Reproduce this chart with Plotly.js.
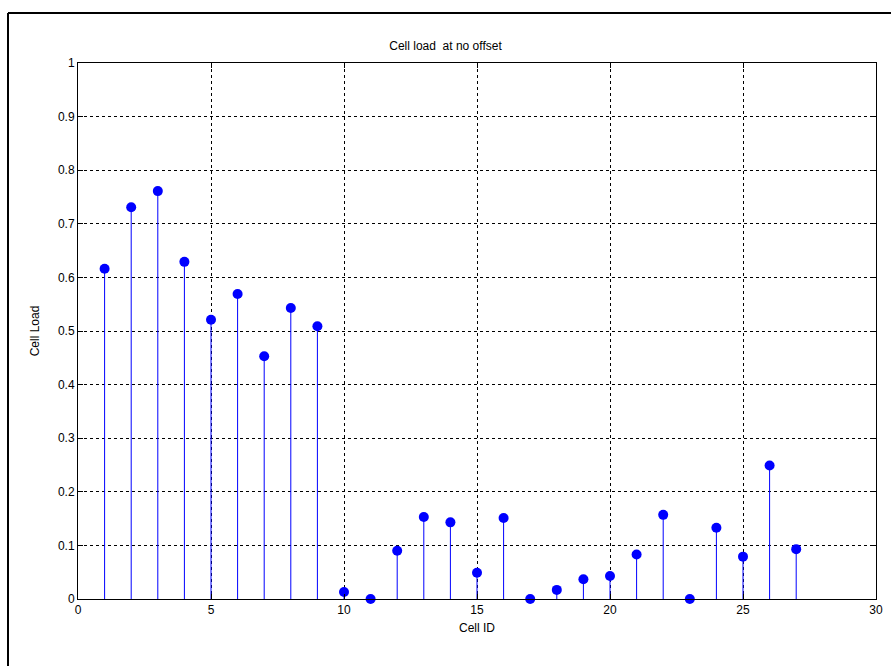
<!DOCTYPE html>
<html>
<head>
<meta charset="utf-8">
<script src="https://cdn.plot.ly/plotly-3.0.1.min.js"></script>
<style>
html,body{margin:0;padding:0;background:#fff;}
#chart{width:891px;height:666px;}
</style>
</head>
<body>
<div id="chart"></div>
<script>
const cellIds = [1,2,3,4,5,6,7,8,9,10,11,12,13,14,15,16,17,18,19,20,21,22,23,24,25,26,27];
const cellLoad = [0.616,0.731,0.761,0.629,0.521,0.569,0.453,0.543,0.509,0.013,0.0,0.090,0.153,0.143,0.049,0.151,0.0,0.017,0.037,0.043,0.083,0.157,0.0,0.133,0.079,0.249,0.093];
const zeros = cellLoad.map(() => 0);

const trace = {
  x: cellIds,
  y: cellLoad,
  type: 'scatter',
  mode: 'markers',
  marker: {color: '#0000ff', size: 10},
  error_y: {
    type: 'data', symmetric: false,
    array: zeros, arrayminus: cellLoad,
    width: 0, color: '#0000ff', thickness: 1
  },
  cliponaxis: false,
  hoverinfo: 'x+y'
};

const fontFam = 'Liberation Sans, Arial, Helvetica, sans-serif';
const axisCommon = {
  showline: true, mirror: 'ticks', linecolor: '#000', linewidth: 1,
  ticks: 'inside', ticklen: 5, tickcolor: '#000',
  showgrid: true, gridcolor: '#000', griddash: 'dot', gridwidth: 1,
  zeroline: false,
  tickfont: {family: fontFam, size: 12, color: '#000'}
};

const layout = {
  width: 891, height: 666,
  margin: {l: 78, r: 15, t: 63, b: 67},
  paper_bgcolor: '#fff', plot_bgcolor: '#fff',
  showlegend: false,
  title: {text: 'Cell load  at no offset', font: {family: fontFam, size: 12, color: '#000'},
          x: 0.5, xanchor: 'center', y: 1 - 46/666, yanchor: 'middle'},
  xaxis: Object.assign({}, axisCommon, {
    range: [0, 30], dtick: 5, tick0: 0,
    title: {text: 'Cell ID', font: {family: fontFam, size: 12, color: '#000'}, standoff: 7}
  }),
  yaxis: Object.assign({}, axisCommon, {
    range: [0, 1], dtick: 0.1, tick0: 0,
    title: {text: 'Cell Load', font: {family: fontFam, size: 12, color: '#000'}, standoff: 15}
  }),
  shapes: [
    {type: 'line', xref: 'paper', yref: 'paper', x0: -70/798, x1: -70/798, y0: 1 + 50/536, y1: -0.2, line: {color: '#000', width: 2}},
    {type: 'line', xref: 'paper', yref: 'paper', x0: -70/798, x1: 1.1, y0: 1 + 50/536, y1: 1 + 50/536, line: {color: '#000', width: 2}}
  ]
};

Plotly.newPlot('chart', [trace], layout, {displayModeBar: false, staticPlot: true});
</script>
</body>
</html>
